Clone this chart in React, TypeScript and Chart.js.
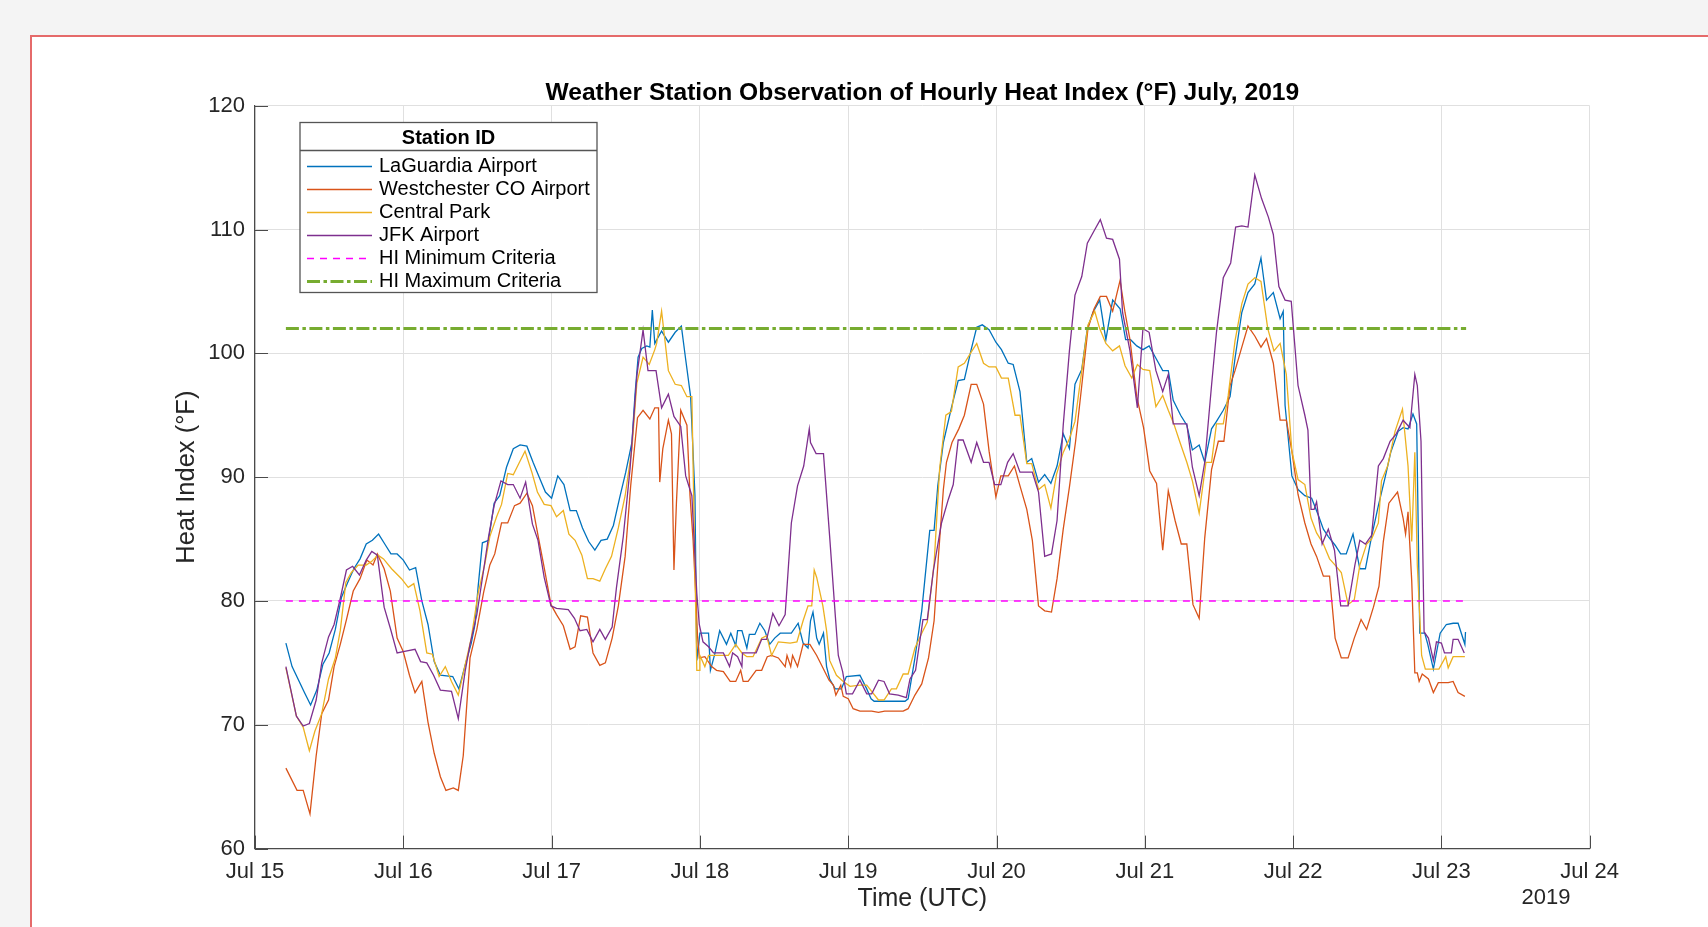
import { useEffect, useRef } from "react";
import { Chart, registerables } from "chart.js";

Chart.register(...registerables);

// ---------- DATA (hours since Jul 15 00:00 UTC, heat index °F) ----------
const dayLabels = ["Jul 15", "Jul 16", "Jul 17", "Jul 18", "Jul 19", "Jul 20", "Jul 21", "Jul 22", "Jul 23", "Jul 24"];
const yTickValues = [60, 70, 80, 90, 100, 110, 120];
const yearLabel = "2019";
const titleText = "Weather Station Observation of Hourly Heat Index (°F) July, 2019";
const legendTitle = "Station ID";

const criteriaHours = [5, 196];
const minCriteria = 80;
const maxCriteria = 102;

const laguardia: [number, number][] = [
  [5, 76.6], [6, 74.7], [8, 72.6], [9, 71.6], [10, 72.8], [11, 74.9], [12, 75.8], [13, 77.7], [14, 80.3], [15, 81.5],
  [16, 82.6], [17, 83.4], [18, 84.6], [19, 84.9], [20, 85.4], [21, 84.6], [22, 83.8], [23, 83.8], [24, 83.3], [25, 82.5],
  [26, 82.7], [27, 80.0], [28, 78.1], [29, 75.1], [30, 74.0], [32, 73.9], [33, 72.9], [34, 74.8], [35, 76.6], [35.6, 78.1],
  [36.1, 81.1], [36.8, 84.7], [37.8, 84.9], [38.7, 87.9], [39.6, 88.5], [40.7, 90.8], [41.8, 92.3], [42.9, 92.6], [44, 92.5], [45, 91.2],
  [46, 90.0], [47, 88.8], [48, 88.3], [49, 90.1], [50, 89.4], [51, 87.3], [52, 87.3], [53, 85.9], [54, 84.8], [55, 84.1],
  [56, 84.9], [57, 85.0], [58, 86.1], [59, 88.3], [60, 90.4], [61, 92.8], [61.5, 96.7], [62, 99.7], [62.6, 100.4], [63.4, 100.6],
  [63.9, 100.5], [64.3, 103.5], [64.7, 100.8], [65.8, 101.8], [66.9, 100.9], [68, 101.7], [69, 102.2], [69.7, 99.5], [70.5, 96.5], [71.2, 88.5],
  [71.5, 75.2], [72, 77.4], [73.4, 77.4], [73.7, 74.4], [74.4, 75.7], [75.2, 77.6], [76.3, 76.5], [77, 77.4], [77.8, 76.4], [78.1, 77.6],
  [78.8, 77.6], [79.6, 76.2], [80, 77.3], [80.9, 77.3], [81.7, 78.2], [82.5, 77.6], [83.3, 76.5], [84.1, 77.0], [85, 77.4], [86.8, 77.4],
  [87.9, 78.2], [88.7, 76.6], [89.5, 76.2], [89.9, 78.4], [90.3, 79.1], [90.9, 77.0], [91.3, 76.5], [92, 77.4], [92.5, 74.7], [93, 73.7],
  [93.9, 72.9], [94.9, 72.9], [95.7, 73.9], [97.9, 74.0], [99, 72.9], [99.7, 72.1], [100.2, 71.9], [105.2, 71.9], [105.7, 72.1], [106.8, 75.4],
  [107.9, 79.2], [108.4, 81.7], [109.2, 85.7], [109.9, 85.7], [110.5, 89.3], [111.4, 92.8], [112.7, 95.6], [113.8, 97.8], [114.8, 97.9], [115.9, 100.3],
  [116.8, 102.1], [117.7, 102.3], [118.8, 101.9], [119.9, 100.9], [120.8, 100.3], [121.9, 99.2], [122.7, 99.1], [123.8, 96.9], [124.9, 91.2], [125.7, 91.5],
  [126.8, 89.6], [127.8, 90.2], [128.8, 89.5], [129.8, 90.9], [130.8, 93.5], [131.8, 92.3], [132.7, 97.5], [133.8, 98.7], [134.7, 102.0], [135.6, 103.3],
  [136.7, 104.3], [137.7, 101.1], [138.8, 104.3], [140, 103.6], [140.9, 101.1], [141.7, 101.1], [142.7, 100.6], [143.7, 100.3], [144.7, 100.6], [145.8, 99.6],
  [146.9, 98.6], [147.8, 98.6], [148.6, 96.2], [149.8, 95.0], [150.8, 94.2], [151.7, 92.2], [152.8, 92.6], [153.7, 91.2], [154.8, 93.9], [155.6, 94.5],
  [156.7, 95.4], [157.8, 96.5], [158.6, 99.6], [159.7, 103.3], [160.7, 104.9], [161.8, 105.6], [162.8, 107.7], [163.7, 104.3], [164.8, 104.9], [165.9, 102.8],
  [166.4, 103.4], [166.7, 95.8], [167.8, 90.1], [168.8, 89.0], [169.9, 88.5], [171, 88.3], [172.1, 86.9], [172.9, 85.8], [173.7, 85.2], [174.8, 84.5],
  [175.7, 83.8], [176.6, 83.8], [177.7, 85.4], [178.8, 82.6], [179.7, 82.6], [180.7, 85.2], [181.8, 87.7], [182.9, 90.0], [183.8, 92.0], [185, 93.7],
  [185.8, 94.0], [186.6, 93.9], [187.4, 95.1], [188, 94.3], [188.5, 77.4], [189.3, 77.4], [189.8, 76.5], [190.7, 74.5], [191.8, 77.4], [192.8, 78.1],
  [193.9, 78.2], [194.7, 78.2], [195.8, 76.5], [195.9, 77.5],
];

const westchester: [number, number][] = [
  [5, 66.5], [6.8, 64.7], [7.8, 64.7], [8.9, 62.8], [9.9, 67.5], [10.8, 70.9], [11.9, 72.0], [12.8, 74.7], [13.8, 76.5], [14.8, 78.5],
  [15.9, 80.8], [17, 81.8], [18.1, 83.3], [19.1, 82.9], [19.8, 83.8], [20.9, 82.6], [21.9, 80.8], [23, 77.0], [24, 75.9], [25, 74.0],
  [25.9, 72.6], [27, 73.5], [28, 70.2], [29, 67.7], [30, 65.8], [30.9, 64.7], [32.1, 64.9], [32.9, 64.7], [33.7, 67.5], [34.8, 75.4],
  [35.9, 77.7], [37, 80.7], [38, 82.9], [38.8, 83.8], [39.9, 86.3], [40.9, 86.3], [42, 87.7], [42.9, 87.9], [44, 88.7], [44.9, 87.7],
  [45.8, 85.3], [46.8, 82.7], [47.9, 79.7], [48.8, 78.9], [49.9, 78.0], [51, 76.1], [51.8, 76.3], [52.7, 78.8], [53.8, 78.7], [54.7, 75.8],
  [55.8, 74.8], [56.7, 75.0], [57.8, 77.0], [58.8, 79.6], [59.9, 83.6], [60.8, 89.3], [61.9, 94.8], [62.8, 95.4], [63.9, 94.7], [64.7, 95.6],
  [65.3, 95.6], [65.5, 89.6], [66, 92.3], [66.9, 94.6], [67.4, 93.5], [67.8, 82.5], [68.2, 87.9], [68.9, 95.4], [69.9, 94.2], [70.4, 88.5],
  [70.9, 84.9], [71.4, 79.7], [71.6, 77.3], [71.9, 75.4], [72.8, 75.5], [73.9, 74.7], [74.7, 74.4], [75.8, 74.3], [76.9, 73.5], [77.8, 73.5],
  [78.6, 74.4], [79, 73.5], [79.8, 73.5], [81.1, 74.4], [82, 74.4], [82.9, 75.5], [83.6, 75.6], [84.7, 75.4], [85.8, 74.7], [86.1, 75.6],
  [86.7, 74.7], [87, 75.6], [87.8, 74.7], [88.7, 76.5], [89.8, 76.5], [90.9, 75.6], [92, 74.5], [92.9, 73.6], [93.6, 73.2], [94, 72.4],
  [94.8, 73.2], [95.2, 72.3], [96, 72.1], [96.8, 71.3], [97.9, 71.1], [99.8, 71.1], [100.9, 71.0], [101.9, 71.1], [103.8, 71.1], [104.9, 71.1],
  [105.7, 71.3], [106.8, 72.4], [107.9, 73.3], [109, 75.4], [109.9, 78.4], [110.6, 83.6], [111.4, 89.0], [111.9, 91.2], [112.8, 92.8], [113.9, 93.9],
  [114.8, 95.0], [115.9, 97.5], [116.8, 97.5], [117.9, 95.9], [118.8, 92.1], [119.9, 88.4], [120.7, 90.1], [121.9, 90.1], [122.9, 90.9], [123.8, 89.3],
  [124.9, 87.4], [125.8, 84.9], [126.8, 79.6], [127.8, 79.2], [128.9, 79.1], [129.8, 81.8], [130.8, 85.8], [131.8, 89.2], [132.8, 92.9], [133.8, 97.4],
  [134.8, 102.0], [135.8, 103.6], [136.8, 104.6], [137.8, 104.6], [138.8, 103.4], [140, 105.9], [140.8, 103.3], [141.6, 101.1], [142.7, 96.5], [143.8, 94.0],
  [144.8, 90.5], [145.9, 89.5], [146.9, 84.1], [147.8, 88.9], [148.9, 86.5], [149.9, 84.6], [150.8, 84.6], [151.8, 79.7], [152.8, 78.6], [153.7, 85.1],
  [154.8, 90.6], [155.9, 92.9], [156.8, 92.9], [157.8, 97.4], [158.6, 98.6], [159.7, 100.5], [160.7, 102.2], [161.8, 101.4], [162.8, 100.5], [163.7, 101.2],
  [164.8, 99.2], [165.9, 94.6], [166.9, 94.6], [167.8, 92.1], [168.8, 88.6], [169.9, 86.3], [170.9, 84.6], [171.8, 83.6], [172.9, 82.0], [173.9, 82.0],
  [174.8, 77.0], [175.8, 75.4], [176.9, 75.4], [177.9, 77.0], [179, 78.5], [179.9, 77.7], [181, 79.5], [181.9, 81.2], [182.6, 84.8], [183.5, 87.9],
  [184.9, 88.8], [185.8, 86.7], [186.2, 85.4], [186.6, 87.2], [187.2, 81.6], [187.7, 74.2], [188.1, 74.2], [188.4, 73.5], [188.9, 74.1], [189.9, 73.7],
  [190.7, 72.6], [191.5, 73.4], [193.1, 73.4], [193.9, 73.5], [194.7, 72.6], [195.8, 72.3],
];

const centralPark: [number, number][] = [
  [5, 74.6], [6.7, 70.7], [7.8, 69.8], [8.8, 67.9], [9.7, 69.5], [10.8, 70.9], [11.9, 73.7], [13, 75.4], [13.8, 77.6], [14.7, 81.5],
  [15.6, 82.3], [16.7, 82.9], [18, 82.9], [18.9, 83.2], [19.9, 83.7], [20.8, 83.4], [22.1, 82.6], [23.7, 81.8], [24.8, 81.1], [25.7, 81.4],
  [26.7, 79.2], [27.8, 75.8], [28.7, 75.7], [29.8, 73.9], [30.8, 74.7], [31.8, 73.5], [32.9, 72.4], [35, 77.0], [36.1, 80.6], [37.2, 83.0],
  [38, 85.2], [39.1, 86.8], [39.9, 87.8], [40.9, 90.3], [41.8, 90.2], [42.9, 91.3], [43.7, 92.1], [44.8, 90.4], [45.7, 88.8], [46.8, 87.8],
  [47.9, 87.7], [48.8, 86.8], [49.9, 87.3], [50.8, 85.4], [51.8, 84.9], [52.9, 83.7], [53.8, 81.8], [54.7, 81.8], [55.8, 81.6], [56.7, 82.6],
  [57.7, 83.6], [58.8, 85.9], [59.9, 88.5], [61, 92.3], [61.8, 97.6], [62.8, 99.7], [63.8, 99.1], [64.7, 100.3], [65, 100.8], [65.8, 103.4],
  [66.9, 98.6], [68, 97.5], [69, 97.4], [69.9, 96.5], [70.7, 96.5], [71.2, 82.5], [71.5, 74.4], [71.9, 74.4], [72, 75.6], [72.8, 74.7],
  [73.4, 75.6], [76.6, 75.6], [77.8, 76.5], [78.8, 75.8], [79.6, 75.5], [80.6, 75.5], [82, 77.0], [82.8, 77.2], [83.6, 75.6], [84.7, 76.7],
  [86.6, 76.6], [87.7, 76.7], [88.7, 78.4], [89.5, 79.6], [90.1, 79.6], [90.5, 82.5], [90.9, 81.9], [91.9, 79.6], [92.5, 77.6], [93, 75.2],
  [94.1, 74.0], [95.2, 73.5], [96.3, 73.1], [97.9, 73.2], [99, 73.2], [100.9, 72.0], [101.8, 72.0], [103, 72.9], [103.8, 72.9], [104.9, 74.1],
  [105.7, 74.1], [106.8, 76.2], [107.9, 77.4], [108.8, 78.3], [109.9, 83.0], [110.8, 90.7], [111.8, 95.0], [112.7, 95.3], [113.8, 98.9], [114.8, 99.2],
  [115.9, 100.1], [116.8, 100.8], [117.9, 99.2], [118.8, 98.9], [119.9, 98.9], [120.8, 98.0], [121.9, 98.0], [123, 95.0], [123.8, 95.0], [124.9, 91.1],
  [125.7, 91.1], [126.8, 89.0], [127.8, 89.4], [128.8, 87.5], [129.7, 90.2], [130.8, 92.0], [131.8, 93.1], [132.7, 94.5], [133.8, 98.6], [134.8, 102.3],
  [135.9, 103.4], [136.7, 102.0], [137.7, 100.8], [138.8, 100.2], [139.9, 100.6], [140.8, 99.0], [141.9, 98.0], [142.8, 99.1], [143.7, 98.7], [144.8, 98.6],
  [145.8, 95.7], [146.9, 96.6], [147.8, 95.4], [148.7, 94.3], [149.7, 92.8], [150.8, 91.2], [151.7, 89.7], [152.8, 87.1], [153.9, 91.2], [154.8, 91.2],
  [155.6, 94.3], [156.7, 94.3], [157.5, 96.6], [158.6, 101.0], [159.7, 104.0], [160.7, 105.6], [161.8, 106.1], [162.8, 105.8], [163.9, 102.0], [164.9, 100.2],
  [165.9, 100.8], [166.9, 98.3], [167.8, 92.1], [168.8, 89.8], [169.9, 89.4], [170.9, 86.7], [171.8, 85.5], [172.9, 84.6], [173.9, 83.4], [174.8, 82.9],
  [175.8, 82.3], [176.9, 79.7], [177.9, 80.1], [178.8, 82.9], [179.9, 84.6], [180.7, 85.0], [181.8, 86.3], [182.3, 89.7], [183.3, 90.9], [184.5, 93.7],
  [185.7, 95.5], [186.6, 90.9], [187.2, 84.8], [187.7, 92.0], [188.1, 82.9], [188.8, 75.6], [189.4, 74.5], [191.6, 74.5], [192.7, 75.5], [193.1, 74.6],
  [193.9, 75.5], [195.8, 75.5],
];

const jfk: [number, number][] = [
  [5, 74.7], [6.7, 70.7], [7.8, 69.9], [8.8, 70.1], [9.9, 72.0], [10.8, 75.0], [11.9, 77.1], [12.8, 78.1], [13.8, 80.2], [14.8, 82.5],
  [15.8, 82.8], [16.9, 82.1], [18, 83.3], [18.9, 84.0], [19.8, 83.7], [20.9, 79.5], [21.9, 77.8], [23, 75.8], [24, 75.9], [25.9, 76.1],
  [26.8, 75.1], [27.8, 75.0], [28.9, 74.0], [30, 72.8], [31.8, 72.7], [32.9, 70.5], [34, 74.3], [34.8, 76.5], [35.9, 78.9], [37, 82.5],
  [37.8, 85.2], [38.7, 87.7], [39.8, 89.7], [40.9, 89.4], [41.8, 89.4], [42.9, 88.3], [43.8, 89.6], [44.9, 86.2], [45.8, 84.9], [46.8, 81.9],
  [47.9, 79.6], [48.8, 79.4], [50.7, 79.3], [51.7, 78.6], [52.6, 77.6], [53.7, 77.7], [54.7, 76.7], [55.8, 77.7], [56.7, 76.9], [57.8, 77.9],
  [58.5, 81.1], [59.6, 85.2], [60.7, 90.7], [61.8, 98.2], [62.8, 101.9], [63.6, 98.6], [64.9, 98.6], [65.8, 95.6], [66.9, 96.7], [67.8, 94.9],
  [68.9, 94.1], [69.7, 90.1], [70.7, 88.5], [71.5, 80.6], [71.9, 78.1], [72.5, 76.7], [73.4, 76.3], [74.2, 75.8], [75.8, 75.8], [76.8, 74.7],
  [77.3, 75.8], [78.1, 75.5], [78.8, 74.7], [78.9, 75.8], [81.1, 75.8], [82, 76.9], [82.8, 76.9], [83.8, 79.0], [84.8, 78.0], [85.8, 78.9],
  [86.8, 86.3], [87.8, 89.3], [88.8, 90.9], [89.7, 93.9], [89.9, 92.8], [90.8, 91.9], [92, 91.9], [93, 85.2], [93.9, 78.9], [94.4, 75.6],
  [95.1, 74.3], [95.7, 72.5], [96.7, 72.5], [97.9, 73.6], [99, 72.5], [99.8, 72.5], [100.9, 73.6], [101.8, 73.5], [102.7, 72.5], [104.1, 72.4],
  [105.4, 72.2], [106, 73.7], [106.9, 74.4], [108.1, 78.5], [108.8, 78.5], [109.8, 82.5], [111.1, 86.3], [112.2, 88.2], [113, 89.4], [113.8, 93.0],
  [114.6, 93.0], [115.9, 91.2], [116.8, 92.8], [117.9, 91.2], [118.8, 91.2], [119.7, 89.4], [120.7, 89.4], [121.8, 91.2], [122.7, 91.9], [123.8, 90.4],
  [125.8, 90.4], [126.8, 88.8], [127.8, 83.6], [128.9, 83.8], [129.8, 86.5], [130.8, 94.2], [131.8, 100.2], [132.7, 104.7], [133.8, 106.2], [134.7, 108.9],
  [135.8, 109.9], [136.8, 110.8], [137.8, 109.3], [138.8, 109.2], [139.9, 107.6], [140.4, 103.3], [141.6, 100.2], [142.8, 95.6], [143.7, 102.0], [144.7, 101.7],
  [145.8, 98.6], [146.9, 96.9], [147.8, 98.3], [148.6, 94.3], [150.8, 94.3], [151.7, 90.8], [152.8, 88.5], [153.7, 91.2], [154.8, 97.4], [155.6, 101.7],
  [156.7, 106.1], [157.9, 107.3], [158.7, 110.2], [159.7, 110.3], [160.7, 110.2], [161.8, 114.4], [162.9, 112.5], [164, 111.0], [164.8, 109.6], [165.7, 105.4],
  [166.7, 104.3], [167.7, 104.2], [168.8, 97.4], [169.9, 95.0], [170.4, 93.8], [170.9, 87.4], [171.4, 87.4], [171.8, 88.0], [172.7, 84.6], [173.7, 85.8],
  [174.7, 84.1], [175.7, 79.6], [176.9, 79.6], [178, 82.9], [178.8, 84.9], [179.7, 84.6], [180.7, 85.3], [181.8, 90.9], [182.6, 91.5], [183.7, 92.9],
  [184.7, 93.5], [185.8, 94.6], [186.9, 94.0], [187.7, 98.3], [188.1, 97.4], [188.7, 92.9], [189.2, 77.5], [189.9, 77.0], [190.7, 75.2], [191.2, 76.7],
  [192, 76.6], [192.5, 75.8], [193.6, 75.8], [193.9, 76.9], [194.7, 76.9], [195.7, 75.8],
];

// ---------- STYLE ----------
const FONT = "'Liberation Sans', Arial, Helvetica, sans-serif";
const TEXT = "#262626";
const AXIS = "#4a4a4a";
const GRID = "#e0e0e0";

const series = [
  { label: "LaGuardia Airport", pts: laguardia, color: "#0072BD" },
  { label: "Westchester CO Airport", pts: westchester, color: "#D95319" },
  { label: "Central Park", pts: centralPark, color: "#EDB120" },
  { label: "JFK Airport", pts: jfk, color: "#7E2F8E" },
];

const overlayPlugin = {
  id: "overlay",
  afterDraw(chart: any) {
    const { ctx, chartArea: ca, scales } = chart;
    ctx.save();
    // inward tick marks
    ctx.strokeStyle = AXIS;
    ctx.lineWidth = 1;
    ctx.setLineDash([]);
    for (const v of yTickValues) {
      const y = Math.round(scales.y.getPixelForValue(v)) + 0.5;
      ctx.beginPath();
      ctx.moveTo(ca.left, y);
      ctx.lineTo(ca.left + 13, y);
      ctx.stroke();
    }
    for (let d = 0; d < dayLabels.length; d++) {
      const x = Math.round(scales.x.getPixelForValue(d * 24)) + 0.5;
      ctx.beginPath();
      ctx.moveTo(x, ca.bottom);
      ctx.lineTo(x, ca.bottom - 13);
      ctx.stroke();
    }
    // title
    ctx.fillStyle = "#000";
    ctx.font = `bold 24.6px ${FONT}`;
    ctx.textAlign = "center";
    ctx.textBaseline = "alphabetic";
    ctx.fillText(titleText, (ca.left + ca.right) / 2, 99.5);
    // year label
    ctx.fillStyle = TEXT;
    ctx.font = `22px ${FONT}`;
    ctx.textBaseline = "middle";
    ctx.fillText(yearLabel, 1546, 898);

    // legend
    const lx = 300, ly = 122.5, lw = 297, lh = 170;
    ctx.fillStyle = "#fff";
    ctx.fillRect(lx, ly, lw, lh);
    ctx.strokeStyle = "#555";
    ctx.lineWidth = 1.3;
    ctx.strokeRect(lx, ly, lw, lh);
    ctx.beginPath();
    ctx.moveTo(lx, 150.5);
    ctx.lineTo(lx + lw, 150.5);
    ctx.stroke();
    ctx.fillStyle = "#000";
    ctx.font = `bold 20px ${FONT}`;
    ctx.textAlign = "center";
    ctx.fillText(legendTitle, lx + lw / 2, 138);
    ctx.font = `20px ${FONT}`;
    ctx.textAlign = "left";
    chart.data.datasets.forEach((ds: any, i: number) => {
      const y = 166.5 + i * 23;
      ctx.strokeStyle = ds.borderColor;
      ctx.lineWidth = ds.borderWidth;
      ctx.setLineDash(ds.borderDash || []);
      ctx.beginPath();
      ctx.moveTo(307, y);
      ctx.lineTo(372, y);
      ctx.stroke();
      ctx.setLineDash([]);
      ctx.fillStyle = "#000";
      ctx.fillText(ds.label, 379, y);
    });
    ctx.restore();
  },
};

export default function App() {
  const ref = useRef<HTMLCanvasElement | null>(null);

  useEffect(() => {
    if (!ref.current) return;
    const datasets: any[] = series.map((s, i) => ({
      label: s.label,
      data: s.pts.map(([x, y]) => ({ x, y })),
      borderColor: s.color,
      backgroundColor: s.color,
      borderWidth: 1.3,
      pointRadius: 0,
      pointHoverRadius: 0,
      tension: 0,
      fill: false,
      order: 5 - i,
    }));
    datasets.push({
      label: "HI Minimum Criteria",
      data: criteriaHours.map((x) => ({ x, y: minCriteria })),
      borderColor: "#FF00FF",
      borderWidth: 1.6,
      borderDash: [7, 6],
      pointRadius: 0,
      fill: false,
      order: 1,
    });
    datasets.push({
      label: "HI Maximum Criteria",
      data: criteriaHours.map((x) => ({ x, y: maxCriteria })),
      borderColor: "#77AC30",
      borderWidth: 3,
      borderDash: [13, 3.5, 3.5, 3.5],
      pointRadius: 0,
      fill: false,
      order: 0,
    });

    const chart = new Chart(ref.current, {
      type: "line",
      data: { datasets },
      plugins: [overlayPlugin],
      options: {
        animation: false,
        responsive: false,
        devicePixelRatio: 1,
        events: [],
        layout: { padding: { left: 0, top: 105.7, right: 118.3, bottom: 0 } },
        plugins: {
          legend: { display: false },
          tooltip: { enabled: false },
          title: { display: false },
        },
        scales: {
          x: {
            type: "linear",
            min: 0,
            max: 216,
            afterFit: (s: any) => {
              s.height = 78.4;
            },
            ticks: {
              stepSize: 24,
              autoSkip: false,
              maxRotation: 0,
              padding: 10,
              color: TEXT,
              font: { family: FONT, size: 22 },
              callback: (v: any) => dayLabels[Math.round(Number(v) / 24)] ?? "",
            },
            grid: { color: GRID, lineWidth: 1, drawTicks: false },
            border: { color: AXIS, width: 1.2 },
            title: {
              display: true,
              text: "Time (UTC)",
              color: TEXT,
              font: { family: FONT, size: 25 },
              padding: { top: 13, bottom: 12.5 },
            },
          },
          y: {
            type: "linear",
            min: 60,
            max: 120,
            afterFit: (s: any) => {
              s.width = 255;
            },
            ticks: {
              stepSize: 10,
              padding: 10,
              color: TEXT,
              font: { family: FONT, size: 22 },
            },
            grid: { color: GRID, lineWidth: 1, drawTicks: false },
            border: { color: AXIS, width: 1.2 },
            title: {
              display: true,
              text: "Heat Index (°F)",
              color: TEXT,
              font: { family: FONT, size: 25.5 },
              padding: { top: 172, bottom: 0 },
            },
          },
        },
      } as any,
    });
    return () => chart.destroy();
  }, []);

  return (
    <div
      style={{
        position: "fixed",
        left: 0,
        top: 0,
        width: 1708,
        height: 927,
        background: "#f4f4f4",
        overflow: "hidden",
      }}
    >
      <div
        style={{
          position: "absolute",
          left: 30,
          top: 35,
          width: 1720,
          height: 940,
          border: "2px solid #e56a6a",
          background: "#ffffff",
        }}
      />
      <canvas
        ref={ref}
        width={1708}
        height={927}
        style={{ position: "absolute", left: 0, top: 0, width: 1708, height: 927 }}
      />
    </div>
  );
}
